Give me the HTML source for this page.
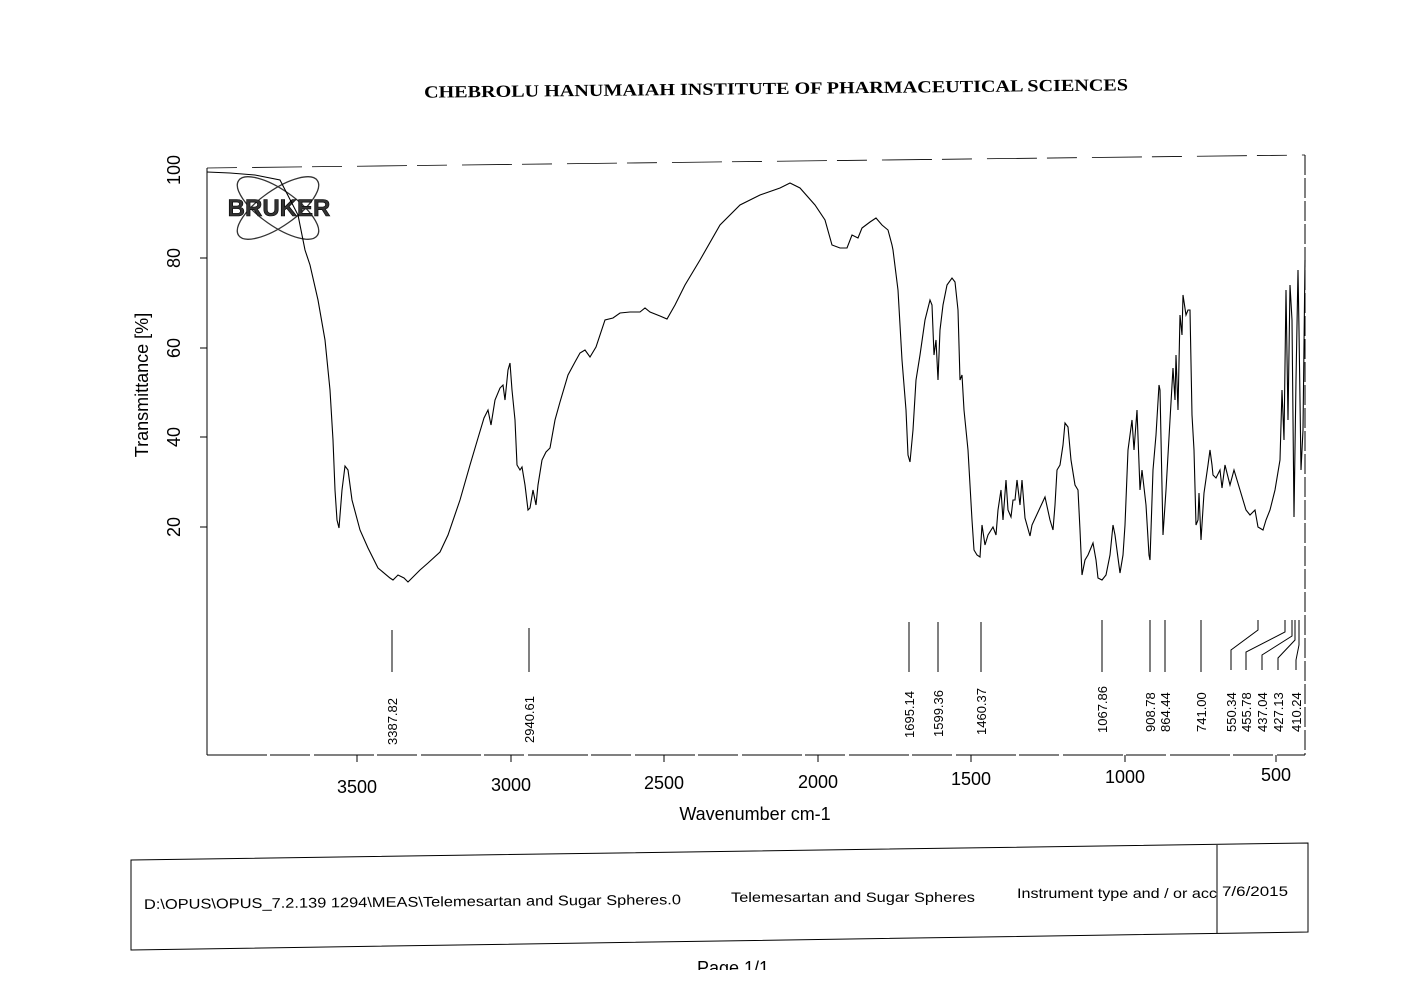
<!DOCTYPE html>
<html><head><meta charset="utf-8"><style>
body{margin:0;background:#fff;width:1401px;height:992px;overflow:hidden}
svg{display:block}
</style></head><body>
<svg width="1401" height="992" viewBox="0 0 1401 992" xmlns="http://www.w3.org/2000/svg" font-family="Liberation Sans, sans-serif">
<text x="424" y="94" textLength="704" lengthAdjust="spacingAndGlyphs" font-family="Liberation Serif, serif" font-weight="bold" font-size="17" transform="rotate(-0.6 776 88)">CHEBROLU HANUMAIAH INSTITUTE OF PHARMACEUTICAL SCIENCES</text>
<g stroke="#000" fill="none" stroke-width="1">
<line x1="207" y1="168" x2="207" y2="755"/>
<line x1="207" y1="755" x2="1305" y2="755" stroke-dasharray="60 3 40 4"/>
<line x1="207" y1="168" x2="1305" y2="155" stroke-dasharray="30 15 50 10" stroke-width="0.8"/>
<line x1="1305" y1="155" x2="1305" y2="755" stroke-dasharray="20 3"/>
<line x1="200" y1="258" x2="207" y2="258"/><line x1="200" y1="348" x2="207" y2="348"/><line x1="200" y1="437" x2="207" y2="437"/><line x1="200" y1="527" x2="207" y2="527"/>
<line x1="357" y1="755" x2="357" y2="762"/><line x1="511" y1="755" x2="511" y2="762"/><line x1="664" y1="755" x2="664" y2="762"/><line x1="818" y1="755" x2="818" y2="762"/><line x1="971" y1="755" x2="971" y2="762"/><line x1="1125" y1="755" x2="1125" y2="762"/><line x1="1276" y1="755" x2="1276" y2="762"/>
</g>
<g font-size="18" text-anchor="middle">
<text transform="translate(180,170) rotate(-90)">100</text>
<text transform="translate(180,258) rotate(-90)">80</text>
<text transform="translate(180,348) rotate(-90)">60</text>
<text transform="translate(180,437) rotate(-90)">40</text>
<text transform="translate(180,527) rotate(-90)">20</text>
<text transform="translate(148,385) rotate(-90)">Transmittance [%]</text>
<text x="357" y="793">3500</text><text x="511" y="791">3000</text><text x="664" y="789">2500</text><text x="818" y="788">2000</text><text x="971" y="785">1500</text><text x="1125" y="783">1000</text><text x="1276" y="781">500</text>
<text x="755" y="820">Wavenumber cm-1</text>
</g>
<g fill="none" stroke="#333" stroke-width="1.3">
<ellipse cx="278" cy="208" rx="48" ry="18" transform="rotate(35 278 208)"/>
<ellipse cx="278" cy="208" rx="48" ry="18" transform="rotate(-35 278 208)"/>
</g>
<text x="279" y="216" text-anchor="middle" font-size="24" font-weight="bold" fill="#333" stroke="#000" stroke-width="0.6">BRUKER</text>
<path fill="none" stroke="#000" stroke-width="1.1" d="M207,172 L230,173 255,175 280,180 298,215 305,250 310,265 318,300 325,340 330,390 333,440 335,490 337,520 339,528 342,490 345,466 348,470 352,500 360,530 368,548 378,568 390,578 393,580 398,575 404,578 408,582 420,570 428,563 440,552 448,535 460,500 470,465 478,438 484,418 488,410 491,425 495,400 500,388 503,385 505,400 508,370 510,363 512,390 515,420 517,465 520,470 522,467 525,485 528,510 530,508 533,490 536,505 538,485 542,460 546,452 550,448 555,420 560,402 568,375 575,362 580,353 585,350 590,357 596,347 605,320 613,318 620,313 630,312 640,312 645,308 650,312 660,316 667,319 675,305 685,285 700,260 720,225 740,205 760,195 780,188 790,183 800,188 815,205 825,220 832,245 840,248 847,248 852,235 858,238 862,228 870,222 876,218 882,225 888,230 892,245 893,250 898,290 902,360 906,410 908,455 910,462 913,430 916,380 920,355 925,320 930,300 932,305 934,355 936,340 938,380 940,330 943,305 947,285 952,278 955,282 958,310 960,380 962,375 964,410 968,450 972,520 974,550 977,555 980,557 982,525 985,545 988,535 993,527 996,535 998,510 1001,490 1003,520 1006,480 1008,510 1011,517 1013,500 1015,500 1017,480 1020,505 1022,480 1025,518 1030,536 1032,525 1045,497 1050,520 1053,530 1055,505 1057,470 1060,465 1063,445 1065,423 1068,427 1071,460 1075,485 1078,490 1080,530 1082,575 1085,560 1088,555 1093,543 1096,560 1098,578 1102,580 1106,575 1110,555 1113,525 1115,535 1118,558 1120,573 1123,555 1125,525 1128,450 1132,420 1134,450 1137,410 1140,490 1142,470 1146,505 1149,555 1150,560 1153,470 1156,435 1159,385 1160,390 1163,535 1166,490 1170,420 1173,368 1175,400 1176,355 1178,410 1180,315 1182,335 1183,295 1186,315 1188,310 1190,310 1192,415 1194,450 1196,525 1198,520 1199,493 1201,540 1204,493 1208,465 1210,450 1212,465 1213,475 1216,478 1220,470 1222,488 1225,465 1230,485 1234,470 1240,490 1246,510 1250,515 1255,510 1258,527 1263,530 1266,520 1270,510 1275,490 1280,460 1282,390 1284,440 1286,290 1288,420 1290,285 1292,320 1294,517 1296,380 1298,270 1299,330 1301,470 1303,430 1305,260"/>
<g stroke="#000" stroke-width="1" fill="none">
<line x1="392" y1="630" x2="392" y2="672"/><line x1="529" y1="628" x2="529" y2="672"/>
<line x1="909" y1="622" x2="909" y2="672"/><line x1="938" y1="622" x2="938" y2="672"/><line x1="981" y1="622" x2="981" y2="672"/>
<line x1="1102" y1="620" x2="1102" y2="672"/><line x1="1150" y1="620" x2="1150" y2="672"/><line x1="1165" y1="620" x2="1165" y2="672"/><line x1="1201" y1="620" x2="1201" y2="672"/>
<polyline points="1258,620 1258,630 1231,650 1231,670"/><polyline points="1285,620 1285,632 1246,652 1246,670"/><polyline points="1292,620 1292,636 1262,655 1262,670"/><polyline points="1295,620 1295,640 1278,658 1278,670"/><polyline points="1299,620 1299,645 1296,660 1296,670"/>
</g>
<g font-size="13">
<text transform="translate(397,745) rotate(-90)">3387.82</text>
<text transform="translate(534,743) rotate(-90)">2940.61</text>
<text transform="translate(914,738) rotate(-90)">1695.14</text>
<text transform="translate(943,737) rotate(-90)">1599.36</text>
<text transform="translate(986,735) rotate(-90)">1460.37</text>
<text transform="translate(1107,733) rotate(-90)">1067.86</text>
<text transform="translate(1155,732) rotate(-90)">908.78</text>
<text transform="translate(1170,732) rotate(-90)">864.44</text>
<text transform="translate(1206,732) rotate(-90)">741.00</text>
<text transform="translate(1236,732) rotate(-90)">550.34</text>
<text transform="translate(1251,732) rotate(-90)">455.78</text>
<text transform="translate(1267,732) rotate(-90)">437.04</text>
<text transform="translate(1283,732) rotate(-90)">427.13</text>
<text transform="translate(1301,732) rotate(-90)">410.24</text>
</g>
<g stroke="#000" fill="none" stroke-width="1">
<polygon points="131,860 1308,843 1308,932 131,950"/>
<line x1="1217" y1="845" x2="1217" y2="933"/>
</g>
<g font-size="14">
<text x="144" y="909" textLength="537" lengthAdjust="spacingAndGlyphs" transform="rotate(-0.5 144 909)">D:\OPUS\OPUS_7.2.139 1294\MEAS\Telemesartan and Sugar Spheres.0</text>
<text x="731" y="902" textLength="244" lengthAdjust="spacingAndGlyphs">Telemesartan and Sugar Spheres</text>
<text x="1017" y="898" textLength="200" lengthAdjust="spacingAndGlyphs">Instrument type and / or acc</text>
<text x="1222" y="896" textLength="66" lengthAdjust="spacingAndGlyphs">7/6/2015</text>
</g>
<text x="733" y="974" text-anchor="middle" font-size="18">Page 1/1</text>
<rect x="600" y="970" width="300" height="22" fill="#fff"/>
</svg>
</body></html>
